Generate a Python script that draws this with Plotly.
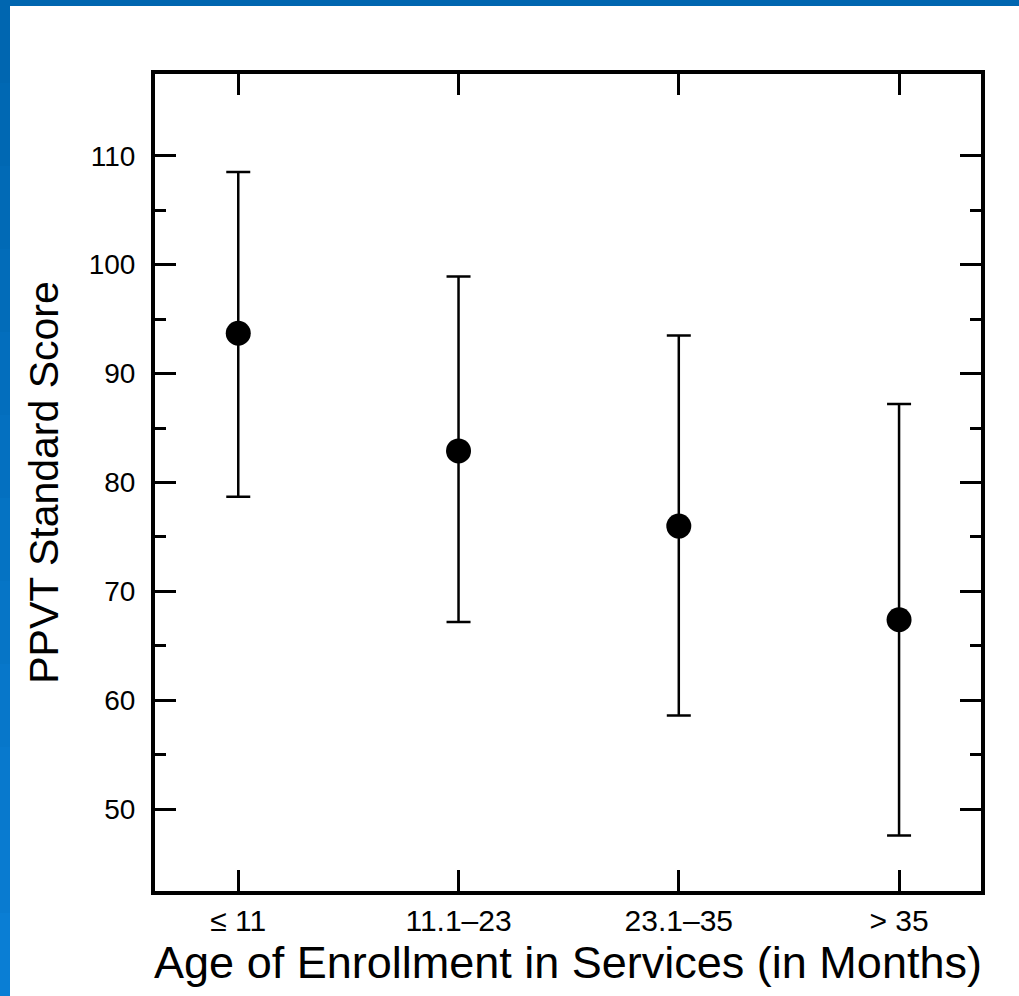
import plotly.graph_objects as go

categories = ["≤ 11", "11.1–23", "23.1–35", "> 35"]
means = [93.7, 82.9, 76.0, 67.4]
upper = [108.5, 98.9, 93.5, 87.2]
lower = [78.7, 67.2, 58.6, 47.6]
y_major = [50, 60, 70, 80, 90, 100, 110]
y_minor = [55, 65, 75, 85, 95, 105]

x_idx = list(range(len(categories)))
err_plus = [u - m for u, m in zip(upper, means)]
err_minus = [m - l for m, l in zip(means, lower)]

W, H = 1019, 996
ML, MR, MT, MB = 155, 38, 74, 105

fig = go.Figure()
fig.add_trace(go.Scatter(
    x=x_idx, y=means, mode="markers",
    marker=dict(color="black", size=25),
    error_y=dict(type="data", symmetric=False, array=err_plus, arrayminus=err_minus,
                 color="black", thickness=2.5, width=12),
    showlegend=False, hoverinfo="skip"))

# blue frame strips (paper coordinates relative to plot area)
pw = W - ML - MR
ph = H - MT - MB
def px_to_paper_x(px):
    return (px - ML) / pw
def py_to_paper_y(py):
    return 1 - (py - MT) / ph

shapes = []
shapes.append(dict(type="rect", xref="paper", yref="paper",
                   x0=px_to_paper_x(0), x1=px_to_paper_x(W), y0=py_to_paper_y(0), y1=py_to_paper_y(6),
                   fillcolor="#0066B0", line=dict(width=0), layer="below"))
steps = 12
cols_a = (0x00, 0x66, 0xB0)
cols_b = (0x0A, 0x7E, 0xD4)
for i in range(steps):
    t = i / (steps - 1)
    c = tuple(int(a + (b - a) * t) for a, b in zip(cols_a, cols_b))
    y0p = i * H / steps
    y1p = (i + 1) * H / steps
    shapes.append(dict(type="rect", xref="paper", yref="paper",
                       x0=px_to_paper_x(0), x1=px_to_paper_x(10),
                       y0=py_to_paper_y(y0p), y1=py_to_paper_y(y1p + 1),
                       fillcolor="#%02X%02X%02X" % c, line=dict(width=0), layer="below"))

font = "Liberation Sans, Arial, sans-serif"
fig.update_layout(
    width=W, height=H,
    margin=dict(l=ML, r=MR, t=MT, b=MB),
    paper_bgcolor="white", plot_bgcolor="white",
    shapes=shapes,
    xaxis=dict(range=[-0.378, 3.372], tickmode="array", tickvals=x_idx, ticktext=categories,
               showline=True, linecolor="black", linewidth=4, mirror="ticks",
               ticks="inside", ticklen=21, tickwidth=3, tickcolor="black",
               showgrid=False, zeroline=False,
               tickfont=dict(family=font, size=30, color="black"),
               title=dict(text="Age of Enrollment in Services (in Months)",
                          font=dict(family=font, size=45, color="black"), standoff=4)),
    yaxis=dict(range=[42.5, 117.5], tickmode="array", tickvals=y_major,
               showline=True, linecolor="black", linewidth=4, mirror="ticks",
               ticks="inside", ticklen=21, tickwidth=3, tickcolor="black",
               minor=dict(tickmode="array", tickvals=y_minor, ticks="inside",
                          ticklen=11, tickwidth=3, tickcolor="black", showgrid=False),
               showgrid=False, zeroline=False, ticklabelstandoff=10,
               tickfont=dict(family=font, size=28, color="black"),
               title=dict(text="PPVT Standard Score",
                          font=dict(family=font, size=41, color="black"), standoff=18)),
)

fig.write_html("out.html", config={"displayModeBar": False},
               post_script="document.body.style.margin='0';document.body.style.overflow='hidden';")
